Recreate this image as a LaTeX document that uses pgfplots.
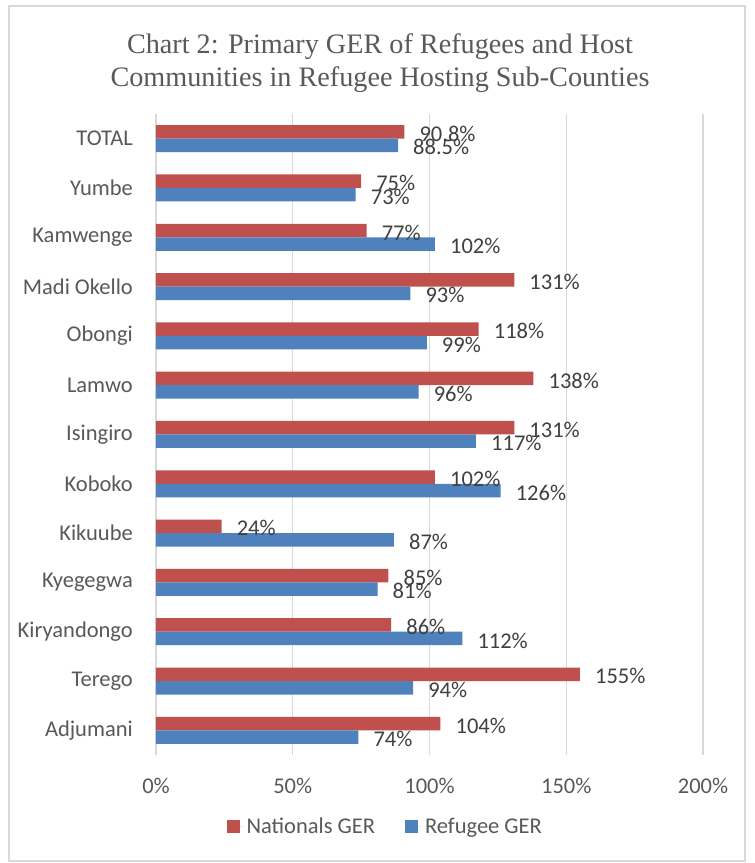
\documentclass[border=0pt]{standalone}
\usepackage{pgfplots}
\pgfplotsset{compat=1.18}
\usepackage{fontspec}
\setmainfont{Carlito}
\newfontfamily\titlefont{Liberation Serif}
\definecolor{natred}{HTML}{C0504D}
\definecolor{refblue}{HTML}{4F81BD}
\definecolor{txtgray}{HTML}{595959}
\definecolor{lblgray}{HTML}{404040}
\definecolor{gridgray}{HTML}{D9D9D9}
\begin{document}
\begin{tikzpicture}
\path[fill=white,use as bounding box] (0pt,0pt) rectangle (755pt,863pt);
\draw[gridgray,line width=1.5pt] (9pt,2pt) rectangle (745pt,857pt);
\node[font=\titlefont\fontsize{28.2}{33}\selectfont, text=txtgray, align=center] at (380pt,799.5pt) {Chart 2: Primary GER of Refugees and Host\\Communities in Refugee Hosting Sub-Counties};
\begin{axis}[
  at={(156pt,108pt)}, anchor=south west,
  scale only axis, width=547pt, height=641pt,
  xmin=0, xmax=200, ymin=-0.5, ymax=12.5,
  xtick={0,50,100,150,200},
  xticklabels={0\%,50\%,100\%,150\%,200\%},
  ytick={0,...,12},
  yticklabels={Adjumani,Terego,Kiryandongo,Kyegegwa,Kikuube,Koboko,Isingiro,Lamwo,Obongi,Madi Okello,Kamwenge,Yumbe,TOTAL},
  xmajorgrids, grid style={gridgray, line width=1.3pt},
  axis line style={draw=none}, tick style={draw=none}, major tick length=0pt,
  ticklabel style={font=\fontsize{22.5}{26}\selectfont, text=txtgray},
  xticklabel style={yshift=-20pt},
  yticklabel style={anchor=east, inner sep=0pt, xshift=-23pt},
  legend style={at={(0.419,-0.111)}, anchor=center, draw=none, legend columns=2,
    font=\fontsize{22.5}{26}\selectfont, text=txtgray,
    /tikz/every even column/.append style={column sep=28pt}},
  legend image code/.code={\fill[#1] (0pt,-7pt) rectangle (13pt,6pt); \path (0pt,0pt) -- (18pt,0pt);},
]
\addplot[xbar, bar width=13.5pt, bar shift=6.75pt, fill=natred, draw=none,
  nodes near coords, point meta=explicit symbolic,
  every node near coord/.style={anchor=west, inner sep=0pt, xshift=15pt, yshift=4.75pt,
    font=\fontsize{22.5}{26}\selectfont, text=lblgray}] coordinates {
  (104,0) [104\%]
  (155,1) [155\%]
  (86,2) [86\%]
  (85,3) [85\%]
  (24,4) [24\%]
  (102,5) [102\%]
  (131,6) [131\%]
  (138,7) [138\%]
  (118,8) [118\%]
  (131,9) [131\%]
  (77,10) [77\%]
  (75,11) [75\%]
  (90.8,12) [90.8\%]
};
\addlegendentry{Nationals GER}
\addplot[xbar, bar width=13.5pt, bar shift=-6.75pt, fill=refblue, draw=none,
  nodes near coords, point meta=explicit symbolic,
  every node near coord/.style={anchor=west, inner sep=0pt, xshift=15pt, yshift=-8.75pt,
    font=\fontsize{22.5}{26}\selectfont, text=lblgray}] coordinates {
  (74,0) [74\%]
  (94,1) [94\%]
  (112,2) [112\%]
  (81,3) [81\%]
  (87,4) [87\%]
  (126,5) [126\%]
  (117,6) [117\%]
  (96,7) [96\%]
  (99,8) [99\%]
  (93,9) [93\%]
  (102,10) [102\%]
  (73,11) [73\%]
  (88.5,12) [88.5\%]
};
\addlegendentry{Refugee GER}
\end{axis}
\end{tikzpicture}
\end{document}
